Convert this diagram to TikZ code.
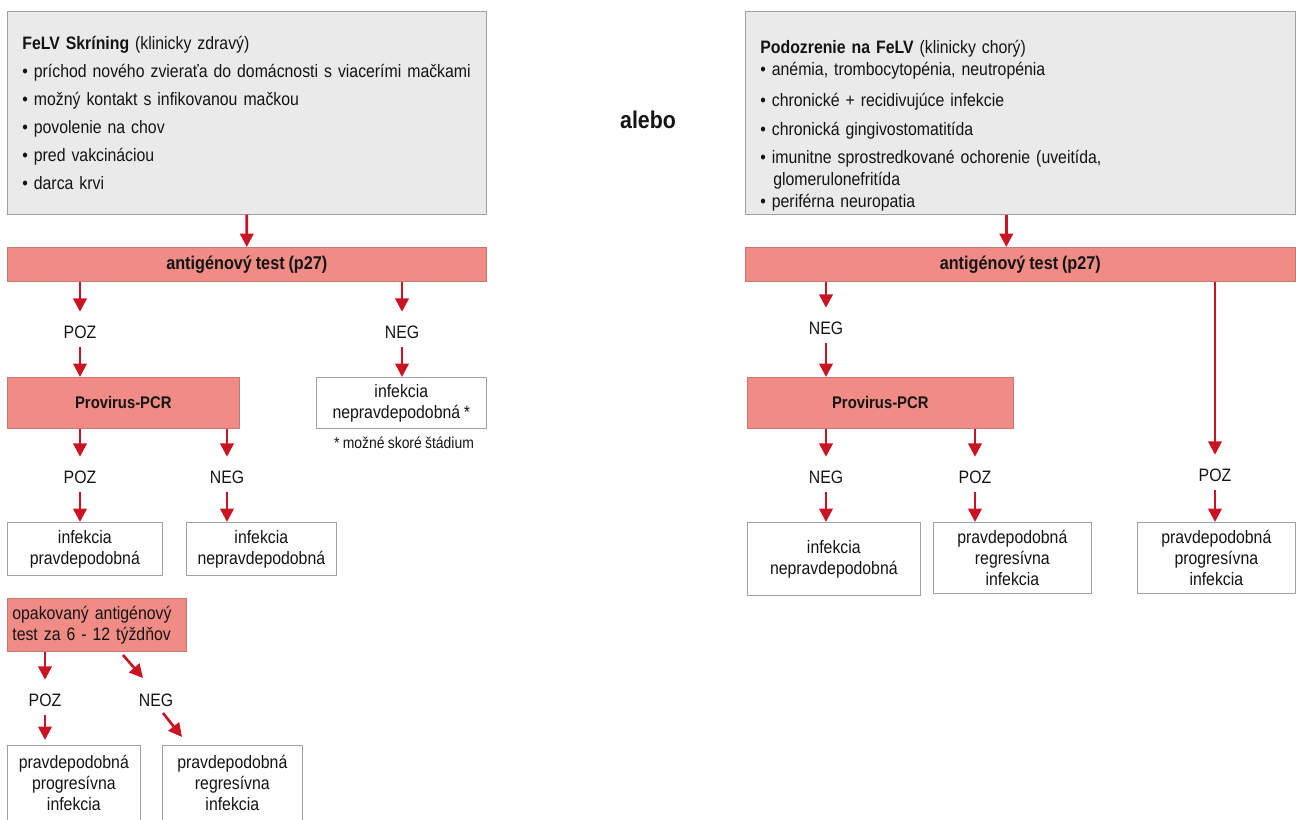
\documentclass[tikz,border=0pt]{standalone}
\usepackage{fontspec}
\setmainfont[FakeStretch=0.88, WordSpace=0.85]{Liberation Sans}
\usetikzlibrary{arrows.meta}
\definecolor{boxgray}{RGB}{234,234,234}
\definecolor{edgegray}{RGB}{160,160,160}
\definecolor{salmon}{RGB}{240,140,133}
\definecolor{salmonedge}{RGB}{196,122,116}
\definecolor{arrowred}{RGB}{200,20,35}
\definecolor{ink}{RGB}{20,20,20}
\tikzstyle{every node}+=[text=ink, font=\fontsize{10.24}{11.95}\selectfont]
\tikzstyle{info}=[draw=edgegray, fill=boxgray, anchor=north west, align=left,
  inner xsep=0.3cm, inner ysep=0pt, minimum height=4.06cm]
\tikzstyle{testbox}=[draw=salmonedge, fill=salmon, anchor=north west,
  font=\bfseries\fontsize{10.24}{11.95}\selectfont]
\tikzstyle{result}=[draw=edgegray, fill=white, anchor=north west, align=center]
\tikzstyle{answer}=[inner xsep=0.1cm, inner ysep=0.16cm]
\tikzstyle{flow}=[draw=arrowred, line width=1.5pt, -{Triangle[length=0.27cm,width=0.27cm]}]
\tikzstyle{tolabel}=[flow, shorten >=0.11cm]

\begin{document}
\begin{tikzpicture}[x=0.02cm, y=-0.02cm]
  \useasboundingbox (0,0) rectangle (1296,819);
  % screening branch
  \node[info, text width=8.98cm, font=\fontsize{10.24}{15.9}\selectfont] (scr) at (7,11)
    {\textbf{FeLV Skríning} (klinicky zdravý)\\
     • príchod nového zvieraťa do domácnosti s viacerími mačkami\\
     • možný kontakt s infikovanou mačkou\\
     • povolenie na chov\\
     • pred vakcináciou\\
     • darca krvi};
  \node[testbox, minimum width=9.58cm, minimum height=0.68cm,
    font=\bfseries\fontsize{10.5}{12}\selectfont] (testL) at (7,247) {antigénový test (p27)};
  \node[answer] (pozA) at (80,332) {POZ};
  \node[answer] (negA) at (402,332) {NEG};
  \node[testbox, minimum width=4.64cm, minimum height=1.02cm,
    font=\bfseries\fontsize{9.6}{11}\selectfont] (pcrL) at (7,377) {Provirus-PCR};
  \node[result, minimum width=3.4cm, minimum height=1.02cm] (unlikelyA) at (316,377)
    {infekcia\\nepravdepodobná *};
  \node[font=\fontsize{9}{11}\selectfont] (note) at (404,443) {* možné skoré štádium};
  \node[answer] (pozB) at (80,477) {POZ};
  \node[answer] (negB) at (227,477) {NEG};
  \node[result, minimum width=3.1cm, minimum height=1.06cm] (likelyA) at (7,522)
    {infekcia\\pravdepodobná};
  \node[result, minimum width=3.0cm, minimum height=1.06cm] (unlikelyB) at (186,522)
    {infekcia\\nepravdepodobná};
  \node[testbox, font=\fontsize{10.24}{11.95}\selectfont, align=left, inner xsep=0.1cm,
    text width=3.38cm, minimum height=1.06cm] (repeat) at (7,598)
    {opakovaný antigénový\\test za 6 - 12 týždňov};
  \node[answer] (pozC) at (45,700) {POZ};
  \node[answer] (negC) at (156,700) {NEG};
  \node[result, minimum width=2.66cm, minimum height=1.52cm] (progA) at (7,745)
    {pravdepodobná\\progresívna\\infekcia};
  \node[result, minimum width=2.8cm, minimum height=1.52cm] (regA) at (162,745)
    {pravdepodobná\\regresívna\\infekcia};
  \coordinate (negCtail) at (123,655);
  \coordinate (negChead) at (143,678);
  \coordinate (regAtail) at (163,713);
  \coordinate (regAhead) at (182,737);

  \node[font=\bfseries\fontsize{13.8}{16}\selectfont] (alebo) at (648,120) {alebo};

  % suspicion branch
  \node[info, text width=10.4cm, font=\fontsize{10.24}{12.5}\selectfont] (susp) at (745,11)
    {\rule{0pt}{0.77cm}\textbf{Podozrenie na FeLV} (klinicky chorý)\\
     • anémia, trombocytopénia, neutropénia\\[0.18cm]
     • chronické + recidivujúce infekcie\\[0.14cm]
     • chronická gingivostomatitída\\[0.12cm]
     • imunitne sprostredkované ochorenie (uveitída,\\
     \hspace*{0.26cm}glomerulonefritída\\
     • periférna neuropatia};
  \node[testbox, minimum width=11.0cm, minimum height=0.68cm,
    font=\bfseries\fontsize{10.5}{12}\selectfont] (testR) at (745,247) {antigénový test (p27)};
  \node[answer] (negD) at (826,328) {NEG};
  \node[testbox, minimum width=5.32cm, minimum height=1.02cm,
    font=\bfseries\fontsize{9.6}{11}\selectfont] (pcrR) at (747,377) {Provirus-PCR};
  \node[answer] (negE) at (826,477) {NEG};
  \node[answer] (pozE) at (975,477) {POZ};
  \node[answer] (pozF) at (1215,475) {POZ};
  \node[result, minimum width=3.46cm, minimum height=1.46cm] (unlikelyC) at (747,522)
    {infekcia\\nepravdepodobná};
  \node[result, minimum width=3.16cm, minimum height=1.42cm] (regB) at (933,522)
    {pravdepodobná\\regresívna\\infekcia};
  \node[result, minimum width=3.16cm, minimum height=1.42cm] (progB) at (1137,522)
    {pravdepodobná\\progresívna\\infekcia};

  % connectors
  \draw[flow] (scr.south) -- (testL.north);
  \draw[tolabel] (testL.south -| pozA) -- (pozA.north);
  \draw[flow] (pozA) -- (pcrL.north -| pozA);
  \draw[tolabel] (testL.south -| negA) -- (negA.north);
  \draw[flow] (negA) -- (unlikelyA.north -| negA);
  \draw[tolabel] (pcrL.south -| pozB) -- (pozB.north);
  \draw[flow] (pozB) -- (likelyA.north -| pozB);
  \draw[tolabel] (pcrL.south -| negB) -- (negB.north);
  \draw[flow] (negB) -- (unlikelyB.north -| negB);
  \draw[tolabel] (repeat.south -| pozC) -- (pozC.north);
  \draw[flow, shorten >=0.1cm] (pozC) -- (progA.north -| pozC);
  \draw[flow] (negCtail) -- (negChead);
  \draw[flow] (regAtail) -- (regAhead);

  \draw[flow] ([xshift=-0.28cm]susp.south) -- ([xshift=-0.28cm]testR.north);
  \draw[tolabel] (testR.south -| negD) -- (negD.north);
  \draw[flow] (negD) -- (pcrR.north -| negD);
  \draw[tolabel] (testR.south -| pozF) -- (pozF.north);
  \draw[flow] (pozF) -- (progB.north -| pozF);
  \draw[tolabel] (pcrR.south -| negE) -- (negE.north);
  \draw[flow] (negE) -- (unlikelyC.north -| negE);
  \draw[tolabel] (pcrR.south -| pozE) -- (pozE.north);
  \draw[flow] (pozE) -- (regB.north -| pozE);
\end{tikzpicture}
\end{document}
